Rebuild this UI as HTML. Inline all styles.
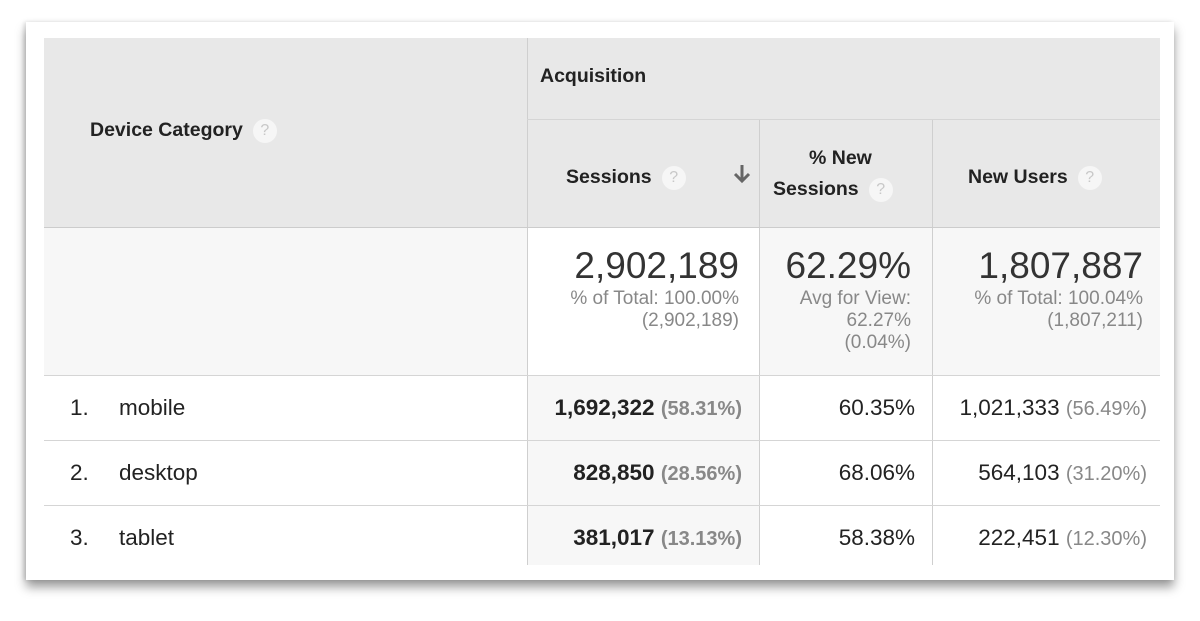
<!DOCTYPE html>
<html><head><style>
body{margin:0;width:1200px;height:621px;background:#fff;position:relative;overflow:hidden;font-family:"Liberation Sans",Arial,sans-serif;color:#222}
.card{position:absolute;left:26px;top:22px;width:1148px;height:558px;background:#fff;box-shadow:0 7px 10px rgba(0,0,0,0.4),-2px 0 4px rgba(0,0,0,0.12);}
.a{position:absolute;white-space:nowrap}
.bg{position:absolute}
.h{font-weight:bold;font-size:19.5px;color:#222}
.q{display:inline-block;width:24px;height:24px;border-radius:50%;background:#f6f6f6;color:#c8c8c8;font-size:16px;text-align:center;line-height:24px;font-weight:normal;vertical-align:middle;margin-left:10px}
.vl{position:absolute;width:1px;background:#cfcfcf}
.hl{position:absolute;height:1px;background:#d5d5d5}
.big{font-size:37px;color:#333;text-align:right}
.sub{font-size:19px;color:#888;text-align:right;line-height:22px}
.d{font-size:22.5px;color:#222}
.r{text-align:right}
.g{color:#888;font-size:20px}
</style></head><body>
<div class="card"></div>
<div class="bg" style="left:44px;top:38px;width:1116px;height:189px;background:#e8e8e8"></div>
<div class="bg" style="left:44px;top:227px;width:1116px;height:148px;background:#f7f7f7"></div>
<div class="bg" style="left:527px;top:227px;width:232px;height:148px;background:#fff"></div>
<div class="bg" style="left:527px;top:375px;width:232px;height:190px;background:#f7f7f7"></div>
<div class="vl" style="left:527px;top:38px;height:527px"></div>
<div class="vl" style="left:759px;top:120px;height:445px"></div>
<div class="vl" style="left:932px;top:120px;height:445px"></div>
<div class="hl" style="left:527px;top:119px;width:633px"></div>
<div class="hl" style="left:44px;top:227px;width:1116px;background:#ccc"></div>
<div class="hl" style="left:44px;top:375px;width:1116px"></div>
<div class="hl" style="left:44px;top:440px;width:1116px"></div>
<div class="hl" style="left:44px;top:505px;width:1116px"></div>

<div class="a h" style="left:540px;top:65px">Acquisition</div>
<div class="a h" style="left:90px;top:119px">Device Category<span class="q">?</span></div>
<div class="a h" style="left:566px;top:166px">Sessions<span class="q">?</span></div>
<svg class="a" style="left:733px;top:163px" width="18" height="22" viewBox="0 0 18 22"><path d="M9 2v16M2 11l7 7 7-7" stroke="#666" stroke-width="3" fill="none"/></svg>
<div class="a h" style="left:809px;top:147px">% New</div>
<div class="a h" style="left:773px;top:178px">Sessions<span class="q">?</span></div>
<div class="a h" style="left:968px;top:166px">New Users<span class="q">?</span></div>

<div class="a big" style="left:530px;top:245px;width:209px">2,902,189</div>
<div class="a sub" style="left:500px;top:288px;width:239px">% of Total: 100.00%<br>(2,902,189)</div>
<div class="a big" style="left:760px;top:245px;width:151px">62.29%</div>
<div class="a sub" style="left:740px;top:288px;width:171px">Avg for View:<br>62.27%<br>(0.04%)</div>
<div class="a big" style="left:935px;top:245px;width:208px">1,807,887</div>
<div class="a sub" style="left:905px;top:288px;width:238px">% of Total: 100.04%<br>(1,807,211)</div>

<div class="a d" style="left:70px;top:395px">1.</div><div class="a d" style="left:119px;top:395px">mobile</div>
<div class="a d" style="left:70px;top:460px">2.</div><div class="a d" style="left:119px;top:460px">desktop</div>
<div class="a d" style="left:70px;top:525px">3.</div><div class="a d" style="left:119px;top:525px">tablet</div>

<div class="a d r" style="left:500px;top:395px;width:242px"><b>1,692,322</b> <span class="g"><b>(58.31%)</b></span></div>
<div class="a d r" style="left:500px;top:460px;width:242px"><b>828,850</b> <span class="g"><b>(28.56%)</b></span></div>
<div class="a d r" style="left:500px;top:525px;width:242px"><b>381,017</b> <span class="g"><b>(13.13%)</b></span></div>

<div class="a d r" style="left:760px;top:395px;width:155px">60.35%</div>
<div class="a d r" style="left:760px;top:460px;width:155px">68.06%</div>
<div class="a d r" style="left:760px;top:525px;width:155px">58.38%</div>

<div class="a d r" style="left:905px;top:395px;width:242px">1,021,333 <span class="g">(56.49%)</span></div>
<div class="a d r" style="left:905px;top:460px;width:242px">564,103 <span class="g">(31.20%)</span></div>
<div class="a d r" style="left:905px;top:525px;width:242px">222,451 <span class="g">(12.30%)</span></div>
</body></html>
